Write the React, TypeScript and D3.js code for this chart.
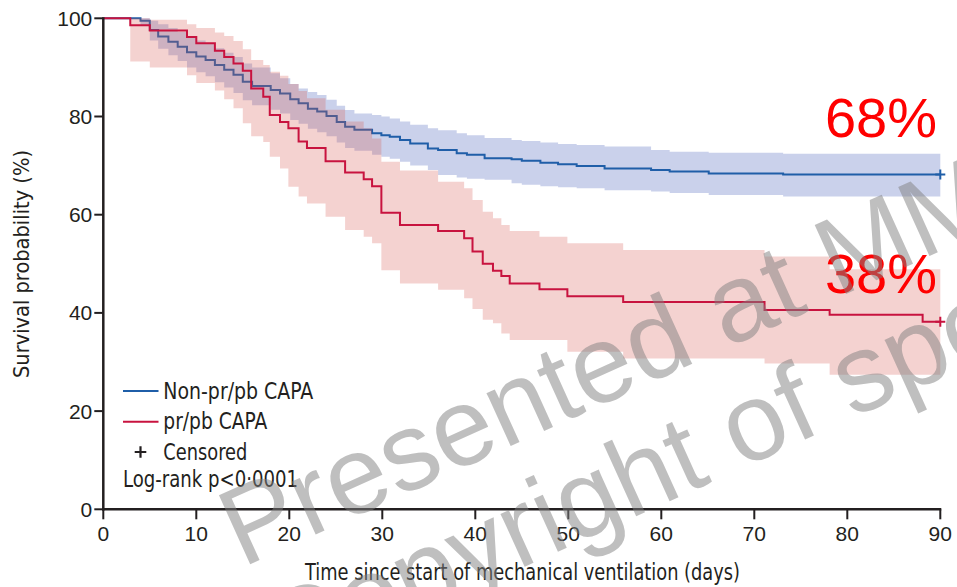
import React from 'react';
import * as d3 from 'd3';

// ---- axes ----
const xTicks = [0, 10, 20, 30, 40, 50, 60, 70, 80, 90];
const yTicks = [0, 20, 40, 60, 80, 100];
const xLabel = 'Time since start of mechanical ventilation (days)';
const yLabel = 'Survival probability (%)';

// ---- Non-pr/pb CAPA (blue) ----
const blueTimes = [0, 4.0, 5.0, 5.9, 7.0, 8.0, 9.0, 10.0, 11.0, 12.0, 13.0, 14.0, 15.0, 16.0, 18.0, 19.0, 20.1, 21.0, 22.0, 23.0, 24.0, 25.1, 26.0, 27.0, 28.9, 29.9, 30.8, 31.9, 33.0, 34.9, 36.0, 38.0, 39.1, 41.0, 43.9, 45.0, 47.0, 48.9, 50.9, 53.9, 58.9, 60.9, 65.1, 73.1, 90];
const blueSurv = [100, 99.5, 97.6, 96.3, 95.2, 94.2, 93.1, 92.2, 91.5, 90.5, 89.5, 88.5, 87.1, 86.2, 85.4, 84.7, 83.5, 82.7, 81.6, 81.0, 80.1, 78.9, 77.9, 77.3, 76.6, 76.2, 75.9, 75.2, 74.5, 73.5, 73.2, 72.5, 72.2, 71.5, 71.3, 71.0, 70.6, 70.3, 69.9, 69.4, 69.1, 68.8, 68.4, 68.2, 68.2];
const blueLower = [100, 98.5, 95.5, 93.8, 92.5, 91.3, 90.0, 89.0, 88.2, 87.0, 85.9, 84.8, 83.3, 82.3, 81.4, 80.6, 79.3, 78.5, 77.5, 76.8, 76.0, 74.7, 73.6, 73.0, 72.2, 71.8, 71.4, 70.8, 70.0, 69.1, 68.1, 67.6, 67.3, 67.1, 66.4, 66.1, 65.8, 65.6, 65.4, 65.0, 64.7, 64.4, 64.0, 63.7, 63.7];
const blueUpper = [100, 100, 99.5, 98.8, 98.0, 97.2, 96.3, 95.5, 94.8, 93.9, 93.0, 92.1, 90.8, 90.0, 88.8, 87.8, 86.6, 85.7, 85.0, 84.4, 83.4, 82.2, 81.3, 80.6, 80.3, 80.0, 79.6, 79.0, 78.3, 77.6, 77.2, 76.6, 76.2, 75.6, 75.2, 75.0, 74.7, 74.4, 74.2, 73.9, 73.2, 72.8, 72.6, 72.4, 72.4];

// ---- pr/pb CAPA (red) ----
const redTimes = [0, 2.9, 5.0, 9.0, 10.0, 12.0, 13.0, 14.0, 15.0, 15.9, 17.2, 17.9, 19.0, 19.9, 21.0, 21.9, 23.9, 26.0, 28.0, 28.9, 29.9, 31.9, 36.0, 38.8, 39.7, 40.8, 41.9, 42.8, 43.7, 46.9, 49.9, 55.9, 71.1, 78.1, 88.1, 90];
const redSurv = [100, 98.6, 97.5, 96.2, 94.9, 93.4, 92.1, 90.8, 89.3, 85.7, 84.0, 80.3, 78.9, 77.6, 74.9, 73.6, 70.9, 68.6, 67.2, 65.8, 60.4, 57.9, 56.7, 55.2, 52.5, 50.0, 48.6, 47.5, 46.0, 44.8, 43.4, 42.2, 40.6, 39.6, 38.2, 38.2];
const redLower = [100, 91.2, 90.0, 88.4, 86.8, 85.3, 83.5, 81.7, 78.6, 76.0, 74.8, 71.8, 69.4, 65.7, 63.7, 62.3, 59.6, 56.9, 55.5, 54.2, 48.7, 46.0, 44.7, 43.0, 40.8, 38.6, 37.9, 35.8, 34.5, 34.5, 32.1, 30.7, 29.7, 27.4, 27.4, 27.4];
const redUpper = [100, 100, 99.7, 98.8, 98.0, 97.1, 96.4, 95.4, 93.7, 91.5, 90.5, 89.1, 88.3, 86.6, 85.2, 83.7, 81.4, 79.0, 77.6, 75.5, 70.8, 69.0, 66.7, 65.4, 63.0, 60.6, 59.3, 57.9, 56.7, 55.5, 54.2, 52.8, 51.5, 48.9, 48.9, 48.9];

// ---- annotations ----
const legendItems = ['Non-pr/pb CAPA', 'pr/pb CAPA', 'Censored'];
const statText = 'Log-rank p<0\u00b70001';
const finalLabels = ['68%', '38%'];
const watermark = ['Presented at MM', 'Copyright of speaker'];

const INK = '#231f20';
const BLUE = '#1f5ea8';
const RED = '#c8133f';
const NARROW = "'Liberation Sans Narrow', 'DejaVu Sans Condensed', 'Liberation Sans', sans-serif";
const SANS = "'Liberation Sans', Arial, sans-serif";

export default function App() {
  const W = 957, H = 587;
  const x = d3.scaleLinear().domain([0, 90]).range([103.3, 940.3]);
  const y = d3.scaleLinear().domain([0, 100]).range([509.3, 18.3]);

  const stepLine = (times: number[], vals: number[]) =>
    d3.line<number>()
      .x((_, i) => x(times[i]))
      .y((d) => y(d))
      .curve(d3.curveStepAfter)(vals) || '';

  const band = (times: number[], lo: number[], hi: number[]) =>
    d3.area<number>()
      .x((d) => x(d))
      .y0((_, i) => y(lo[i]))
      .y1((_, i) => y(hi[i]))
      .curve(d3.curveStepAfter)(times) || '';

  const cross = (cx: number, cy: number, s: number) =>
    `M${cx - s},${cy}H${cx + s}M${cx},${cy - s}V${cy + s}`;

  const blueEnd = blueTimes.length - 1;
  const redEnd = redTimes.length - 1;

  return (
    <svg width={W} height={H} style={{ position: 'absolute', left: 0, top: 0, background: '#fff' }}>
      <rect x={0} y={0} width={W} height={H} fill="#fff" />

      {/* confidence bands and curves */}
      <path d={band(blueTimes, blueLower, blueUpper)} fill="#6b7fc8" fillOpacity={0.36} />
      <path d={stepLine(blueTimes, blueSurv)} fill="none" stroke={BLUE} strokeWidth={2} />
      <path d={band(redTimes, redLower, redUpper)} fill="#d85f55" fillOpacity={0.28} />
      <path d={stepLine(redTimes, redSurv)} fill="none" stroke={RED} strokeWidth={2} />

      {/* censor marks */}
      <path d={cross(x(blueTimes[blueEnd]), y(blueSurv[blueEnd]), 5)} stroke={BLUE} strokeWidth={2} />
      <path d={cross(x(redTimes[redEnd]), y(redSurv[redEnd]), 5)} stroke={RED} strokeWidth={2} />

      {/* axes */}
      <g stroke={INK} strokeWidth={2.5} fill="none">
        <line x1={x(0)} x2={x(0)} y1={y(100) - 1} y2={y(0) + 1.2} />
        <line x1={x(0) - 1.2} x2={x(90) + 1} y1={y(0)} y2={y(0)} />
        {yTicks.map((t) => (
          <line key={'yt' + t} x1={x(0) - 9} x2={x(0)} y1={y(t)} y2={y(t)} strokeWidth={2} />
        ))}
        {xTicks.map((t) => (
          <line key={'xt' + t} x1={x(t)} x2={x(t)} y1={y(0)} y2={y(0) + 10} strokeWidth={2} />
        ))}
      </g>
      <g fill={INK} fontFamily={SANS} fontSize={21}>
        {yTicks.map((t) => (
          <text key={'yl' + t} x={x(0) - 11} y={y(t) + 7.5} textAnchor="end">{t}</text>
        ))}
        {xTicks.map((t) => (
          <text key={'xl' + t} x={x(t)} y={540.5} textAnchor="middle">{t}</text>
        ))}
      </g>
      <text x={522.5} y={580} textAnchor="middle" fontFamily={NARROW} fontSize={23} fill={INK}
        textLength={435} lengthAdjust="spacingAndGlyphs">{xLabel}</text>
      <text transform="translate(29,264) rotate(-90)" textAnchor="middle" fontFamily={NARROW} fontSize={22} fill={INK}
        textLength={228} lengthAdjust="spacingAndGlyphs">{yLabel}</text>

      {/* legend */}
      <line x1={123} x2={158.5} y1={391} y2={391} stroke={BLUE} strokeWidth={2} />
      <line x1={123} x2={158.5} y1={421.7} y2={421.7} stroke={RED} strokeWidth={2} />
      <path d={cross(140.5, 452, 5.8)} stroke={INK} strokeWidth={2.2} />
      <g fontFamily={NARROW} fontSize={23} fill={INK}>
        <text x={163.3} y={399.3} textLength={150} lengthAdjust="spacingAndGlyphs">{legendItems[0]}</text>
        <text x={163.3} y={429} textLength={104} lengthAdjust="spacingAndGlyphs">{legendItems[1]}</text>
        <text x={163.3} y={460} textLength={84} lengthAdjust="spacingAndGlyphs">{legendItems[2]}</text>
        <text x={123} y={487} textLength={175} lengthAdjust="spacingAndGlyphs">{statText}</text>
      </g>

      {/* final survival labels */}
      <g fontFamily={SANS} fontSize={56} fill="#ff0000" textAnchor="end">
        <text x={937} y={137}>{finalLabels[0]}</text>
        <text x={937} y={292.5}>{finalLabels[1]}</text>
      </g>

      {/* watermark */}
      <g fontFamily={SANS} fontSize={110} fill="#7f7f7f" fillOpacity={0.5}>
        <text transform="translate(242,568) rotate(-24.4)">{watermark[0]}</text>
        <text transform="translate(284,676) rotate(-24.4)">{watermark[1]}</text>
      </g>
    </svg>
  );
}
